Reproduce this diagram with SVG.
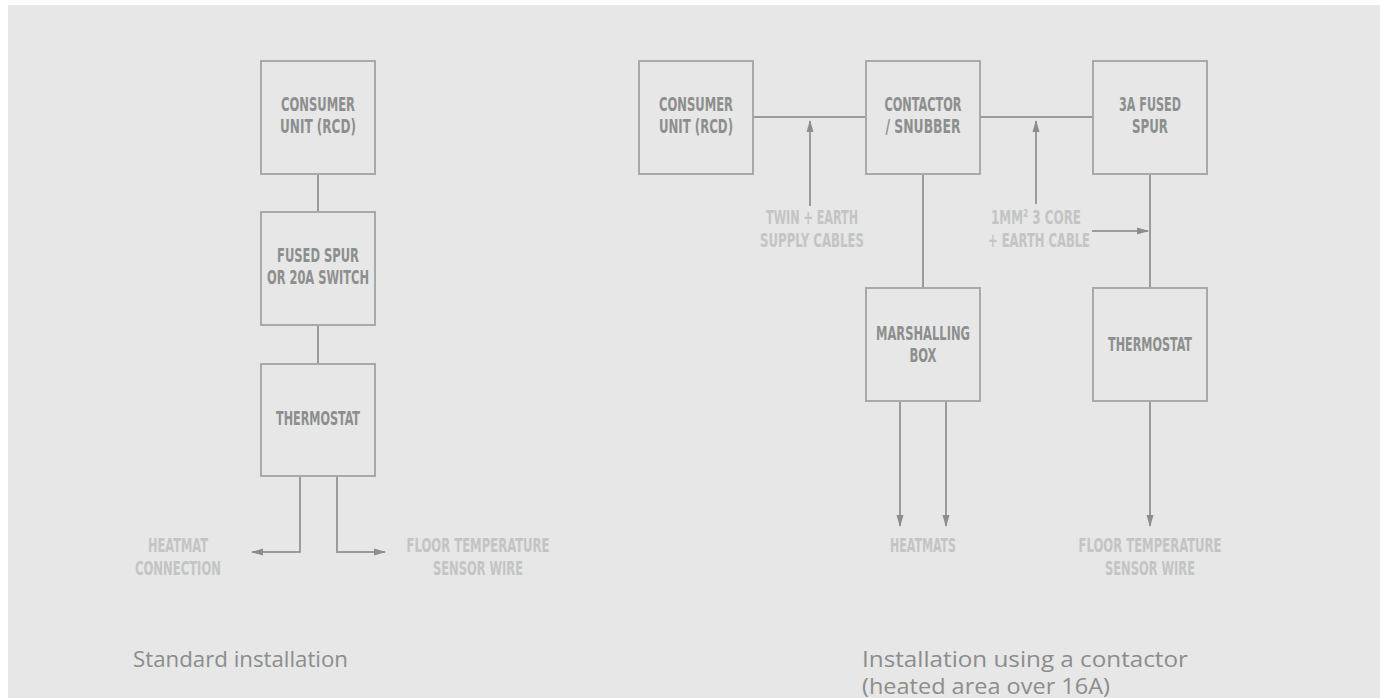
<svg xmlns="http://www.w3.org/2000/svg" width="1380" height="698" viewBox="0 0 1380 698">
<style>
.box{fill:none;stroke:#a8a9a9;stroke-width:2}
.ln{fill:none;stroke:#9a9c9b;stroke-width:2}
.lb{font-family:"DejaVu Sans Condensed","DejaVu Sans",sans-serif;font-stretch:condensed;font-weight:bold;font-size:20px;fill:#8d8e8e;text-anchor:middle}
.lt{font-family:"DejaVu Sans Condensed","DejaVu Sans",sans-serif;font-stretch:condensed;font-weight:bold;font-size:20px;fill:#c3c4c4;text-anchor:middle}
.cap{font-family:"Open Sans","Liberation Sans",sans-serif;font-size:21px;fill:#8c8d8d}
</style>
<defs>
<marker id="ah" viewBox="0 0 12 10" refX="11" refY="5" markerWidth="12" markerHeight="10" markerUnits="userSpaceOnUse" orient="auto">
<path d="M0,1.5 L12,5 L0,8.5 Z" fill="#8a8d8c"/>
</marker>
</defs>
<rect x="0" y="0" width="1380" height="698" fill="#ffffff"/>
<rect x="8" y="5" width="1372" height="693" fill="#e6e7e6"/>

<g id="connectors">
<line class="ln" x1="318" y1="175" x2="318" y2="211"/>
<line class="ln" x1="318" y1="326" x2="318" y2="363"/>
<polyline class="ln" points="300,477 300,552 252,552" marker-end="url(#ah)"/>
<polyline class="ln" points="337,477 337,552 385,552" marker-end="url(#ah)"/>
<line class="ln" x1="754" y1="117" x2="866" y2="117"/>
<line class="ln" x1="981" y1="117" x2="1093" y2="117"/>
<line class="ln" x1="810" y1="206" x2="810" y2="121" marker-end="url(#ah)"/>
<line class="ln" x1="1036" y1="204" x2="1036" y2="121" marker-end="url(#ah)"/>
<line class="ln" x1="923" y1="175" x2="923" y2="288"/>
<line class="ln" x1="1150" y1="175" x2="1150" y2="288"/>
<line class="ln" x1="1092" y1="231" x2="1148" y2="231" marker-end="url(#ah)"/>
<line class="ln" x1="900" y1="402" x2="900" y2="526" marker-end="url(#ah)"/>
<line class="ln" x1="946" y1="402" x2="946" y2="526" marker-end="url(#ah)"/>
<line class="ln" x1="1150" y1="402" x2="1150" y2="526" marker-end="url(#ah)"/>
</g>

<g id="std-consumer">
<rect class="box" x="261" y="61" width="114" height="113"/>
<text class="lb" x="318" y="111" textLength="74" lengthAdjust="spacingAndGlyphs">CONSUMER</text>
<text class="lb" x="318" y="133" textLength="76" lengthAdjust="spacingAndGlyphs">UNIT (RCD)</text>
</g>
<g id="std-fused">
<rect class="box" x="261" y="212" width="114" height="113"/>
<text class="lb" x="318" y="262" textLength="82" lengthAdjust="spacingAndGlyphs">FUSED SPUR</text>
<text class="lb" x="318" y="284" textLength="102" lengthAdjust="spacingAndGlyphs">OR 20A SWITCH</text>
</g>
<g id="std-thermostat">
<rect class="box" x="261" y="364" width="114" height="112"/>
<text class="lb" x="318" y="425" textLength="84" lengthAdjust="spacingAndGlyphs">THERMOSTAT</text>
</g>
<g id="std-labels">
<text class="lt" x="178" y="552" textLength="60" lengthAdjust="spacingAndGlyphs">HEATMAT</text>
<text class="lt" x="178" y="575" textLength="86" lengthAdjust="spacingAndGlyphs">CONNECTION</text>
<text class="lt" x="478" y="552" textLength="143" lengthAdjust="spacingAndGlyphs">FLOOR TEMPERATURE</text>
<text class="lt" x="478" y="575" textLength="90" lengthAdjust="spacingAndGlyphs">SENSOR WIRE</text>
</g>

<g id="ctr-consumer">
<rect class="box" x="639" y="61" width="114" height="113"/>
<text class="lb" x="696" y="111" textLength="74" lengthAdjust="spacingAndGlyphs">CONSUMER</text>
<text class="lb" x="696" y="133" textLength="74" lengthAdjust="spacingAndGlyphs">UNIT (RCD)</text>
</g>
<g id="ctr-contactor">
<rect class="box" x="866" y="61" width="114" height="113"/>
<text class="lb" x="923" y="111" textLength="77" lengthAdjust="spacingAndGlyphs">CONTACTOR</text>
<text class="lb" x="923" y="133" textLength="75" lengthAdjust="spacingAndGlyphs">/ SNUBBER</text>
</g>
<g id="ctr-spur">
<rect class="box" x="1093" y="61" width="114" height="113"/>
<text class="lb" x="1150" y="111" textLength="62" lengthAdjust="spacingAndGlyphs">3A FUSED</text>
<text class="lb" x="1150" y="133" textLength="36" lengthAdjust="spacingAndGlyphs">SPUR</text>
</g>
<g id="ctr-marshalling">
<rect class="box" x="866" y="288" width="114" height="113"/>
<text class="lb" x="923" y="340" textLength="94" lengthAdjust="spacingAndGlyphs">MARSHALLING</text>
<text class="lb" x="923" y="362" textLength="27" lengthAdjust="spacingAndGlyphs">BOX</text>
</g>
<g id="ctr-thermostat">
<rect class="box" x="1093" y="288" width="114" height="113"/>
<text class="lb" x="1150" y="351" textLength="84" lengthAdjust="spacingAndGlyphs">THERMOSTAT</text>
</g>
<g id="ctr-labels">
<text class="lt" x="812" y="224" textLength="92" lengthAdjust="spacingAndGlyphs">TWIN + EARTH</text>
<text class="lt" x="812" y="247" textLength="104" lengthAdjust="spacingAndGlyphs">SUPPLY CABLES</text>
<text class="lt" x="1036" y="224" textLength="90" lengthAdjust="spacingAndGlyphs">1MM² 3 CORE</text>
<text class="lt" x="1039" y="247" textLength="102" lengthAdjust="spacingAndGlyphs">+ EARTH CABLE</text>
<text class="lt" x="923" y="552" textLength="66" lengthAdjust="spacingAndGlyphs">HEATMATS</text>
<text class="lt" x="1150" y="552" textLength="143" lengthAdjust="spacingAndGlyphs">FLOOR TEMPERATURE</text>
<text class="lt" x="1150" y="575" textLength="90" lengthAdjust="spacingAndGlyphs">SENSOR WIRE</text>
</g>

<g id="captions">
<text class="cap" x="133" y="667" textLength="215" lengthAdjust="spacingAndGlyphs">Standard installation</text>
<text class="cap" x="862" y="667" textLength="326" lengthAdjust="spacingAndGlyphs">Installation using a contactor</text>
<text class="cap" x="862" y="694" textLength="248" lengthAdjust="spacingAndGlyphs">(heated area over 16A)</text>
</g>
</svg>
